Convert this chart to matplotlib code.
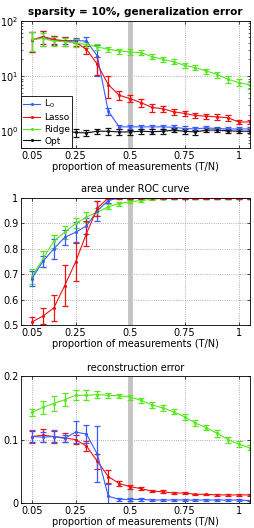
import numpy as np
import matplotlib.pyplot as plt

x = np.arange(1, 22) * 0.05

# generalization error
gen_l0 = [45, 50, 45, 44, 44, 43, 23, 2.3, 1.2, 1.2, 1.2, 1.2, 1.2, 1.18, 1.12, 1.1, 1.15, 1.12, 1.1, 1.1, 1.1]
gen_l0_err = [18, 15, 8, 6, 5, 8, 13, 0.3, 0.12, 0.12, 0.12, 0.1, 0.1, 0.1, 0.1, 0.08, 0.08, 0.08, 0.08, 0.08, 0.08]
gen_lasso = [45, 52, 46, 43, 41, 30.5, 16.3, 7.0, 4.5, 3.9, 3.3, 2.7, 2.55, 2.25, 2.1, 1.93, 1.87, 1.82, 1.75, 1.46, 1.48]
gen_lasso_err = [18, 14, 8, 8, 6, 5, 6, 3, 0.8, 0.55, 0.6, 0.45, 0.3, 0.25, 0.2, 0.2, 0.2, 0.2, 0.2, 0.12, 0.12]
gen_ridge = [46, 48, 43, 42, 40, 37, 33.7, 30.5, 28.5, 27.3, 26.6, 22.5, 20, 18.2, 15.6, 14.2, 12.3, 10.7, 8.7, 7.6, 6.9]
gen_ridge_err = [18, 13, 8, 7, 6, 5, 4, 3.5, 3, 3, 2.7, 2.5, 2.2, 2, 1.5, 1.4, 1.3, 1.3, 1.2, 1.1, 1.0]
gen_opt = [1.0, 1.0, 1.0, 1.0, 0.95, 0.93, 1.0, 1.0, 0.97, 0.97, 1.0, 0.98, 1.0, 1.05, 1.0, 0.97, 1.05, 1.05, 1.02, 1.0, 1.0]
gen_opt_err = [0.4, 0.45, 0.3, 0.2, 0.15, 0.12, 0.1, 0.15, 0.12, 0.1, 0.1, 0.1, 0.1, 0.1, 0.1, 0.1, 0.08, 0.08, 0.08, 0.08, 0.08]

# area under ROC curve
auc_l0 = [0.683, 0.75, 0.80, 0.845, 0.865, 0.89, 0.95, 0.99] + [1.0] * 13
auc_l0_err = [0.03, 0.02, 0.04, 0.03, 0.04, 0.03, 0.04, 0.01] + [0.002] * 13
auc_lasso = [0.512, 0.535, 0.567, 0.655, 0.748, 0.86, 0.96, 1.0] + [1.0] * 13
auc_lasso_err = [0.02, 0.03, 0.05, 0.08, 0.075, 0.05, 0.03, 0.005] + [0.002] * 13
auc_ridge = [0.69, 0.76, 0.83, 0.865, 0.90, 0.925, 0.945, 0.965, 0.978, 0.985, 0.99, 0.995, 0.998, 0.999, 1.0, 1.0, 1.0, 1.0, 1.0, 1.0, 1.0]
auc_ridge_err = [0.03, 0.03, 0.025, 0.025, 0.02, 0.02, 0.015, 0.01, 0.008, 0.006, 0.005, 0.004, 0.003, 0.002, 0.002, 0.002, 0.002, 0.002, 0.002, 0.002, 0.002]

# reconstruction error
rec_l0 = [0.105, 0.104, 0.105, 0.102, 0.112, 0.109, 0.077, 0.011, 0.006, 0.006, 0.006, 0.005, 0.005, 0.005, 0.005, 0.005, 0.005, 0.005, 0.005, 0.005, 0.004]
rec_l0_err = [0.01, 0.008, 0.01, 0.005, 0.017, 0.014, 0.044, 0.02, 0.002, 0.002, 0.002, 0.001, 0.001, 0.001, 0.001, 0.001, 0.001, 0.001, 0.001, 0.001, 0.001]
rec_lasso = [0.105, 0.107, 0.105, 0.103, 0.100, 0.090, 0.066, 0.042, 0.031, 0.026, 0.023, 0.019, 0.018, 0.016, 0.016, 0.014, 0.014, 0.013, 0.013, 0.013, 0.013]
rec_lasso_err = [0.008, 0.01, 0.008, 0.007, 0.007, 0.008, 0.012, 0.01, 0.004, 0.003, 0.003, 0.002, 0.002, 0.002, 0.002, 0.001, 0.001, 0.001, 0.001, 0.001, 0.001]
rec_ridge = [0.143, 0.151, 0.157, 0.163, 0.17, 0.17, 0.171, 0.17, 0.169, 0.167, 0.162, 0.155, 0.150, 0.144, 0.136, 0.126, 0.119, 0.110, 0.100, 0.093, 0.087]
rec_ridge_err = [0.005, 0.01, 0.012, 0.01, 0.008, 0.008, 0.005, 0.004, 0.003, 0.004, 0.004, 0.005, 0.005, 0.004, 0.005, 0.005, 0.004, 0.005, 0.005, 0.005, 0.004]

c_l0 = '#3a5cff'
c_lasso = '#ee1111'
c_ridge = '#55e81a'
c_opt = '#111111'

plt.rcParams['font.family'] = 'DejaVu Sans'
plt.rcParams['font.size'] = 7

fig = plt.figure(figsize=(2.54, 5.28), dpi=100)
ax1 = fig.add_axes([0.083, 0.720, 0.901, 0.2405])
ax2 = fig.add_axes([0.083, 0.3845, 0.901, 0.2405])
ax3 = fig.add_axes([0.083, 0.047, 0.901, 0.2405])


def draw(ax, y, e, c, label=None):
    cont = ax.errorbar(x, y, yerr=e, color=c, lw=0.8, marker='.', ms=2.5,
                       ecolor=c, elinewidth=0.9, capsize=2.2, capthick=0.9,
                       zorder=2)
    cont[0].set_label(label)
    return cont[0]


h = [draw(ax1, gen_l0, gen_l0_err, c_l0, r'L$_0$'),
     draw(ax1, gen_lasso, gen_lasso_err, c_lasso, 'Lasso'),
     draw(ax1, gen_ridge, gen_ridge_err, c_ridge, 'Ridge'),
     draw(ax1, gen_opt, gen_opt_err, c_opt, 'Opt')]
ax1.set_yscale('log')
ax1.set_ylim(0.5, 100)
ax1.set_title('sparsity = 10%, generalization error', fontsize=7.5, fontweight='bold', pad=4)
leg = ax1.legend(handles=h, loc='lower left', fontsize=6.5, fancybox=False, framealpha=1,
                 edgecolor='black', borderpad=0.25, labelspacing=0.3,
                 handlelength=1.9, handletextpad=0.4, borderaxespad=0)
leg.get_frame().set_linewidth(0.6)
leg.set_zorder(5)

draw(ax2, auc_ridge, auc_ridge_err, c_ridge)
draw(ax2, auc_l0, auc_l0_err, c_l0)
draw(ax2, auc_lasso, auc_lasso_err, c_lasso)
ax2.set_ylim(0.5, 1)
ax2.set_yticks([0.5, 0.6, 0.7, 0.8, 0.9, 1])
ax2.set_yticklabels(['0.5', '0.6', '0.7', '0.8', '0.9', '1'])
ax2.set_title('area under ROC curve', fontsize=7, pad=4)

draw(ax3, rec_ridge, rec_ridge_err, c_ridge)
draw(ax3, rec_lasso, rec_lasso_err, c_lasso)
draw(ax3, rec_l0, rec_l0_err, c_l0)
ax3.set_ylim(0, 0.2)
ax3.set_yticks([0, 0.1, 0.2])
ax3.set_yticklabels(['0', '0.1', '0.2'])
ax3.set_title('reconstruction error', fontsize=7, pad=4)

for ax in (ax1, ax2, ax3):
    ax.set_xlim(0, 1.05)
    ax.set_xticks([0.05, 0.25, 0.5, 0.75, 1])
    ax.set_xticklabels(['0.05', '0.25', '0.5', '0.75', '1'])
    ax.set_xlabel('proportion of measurements (T/N)', fontsize=7, labelpad=1)
    ax.grid(True, which='major', linestyle=':', color='#999999', lw=0.6, zorder=1)
    ax.axvline(0.5, color='#c4c4c4', lw=3.5, zorder=1.6)
    ax.tick_params(direction='in', length=2.5, width=0.5, pad=2, labelsize=7, top=True, right=True)
    ax.tick_params(which='minor', direction='in', length=1.5, width=0.4, top=True, right=True)
    for s in ax.spines.values():
        s.set_linewidth(0.6)

fig.savefig('out.png', dpi=100)
